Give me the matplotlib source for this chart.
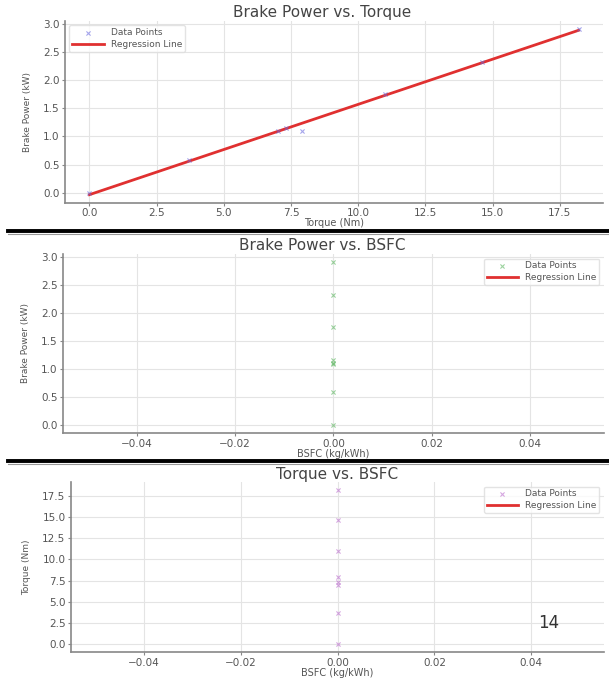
import numpy as np
import matplotlib.pyplot as plt
from matplotlib.lines import Line2D

# readings
torque = [0.0, 3.7, 7.0, 7.3, 7.9, 11.0, 14.6, 18.2]
brake_power = [0.0, 0.58, 1.09, 1.15, 1.10, 1.75, 2.32, 2.90]
bsfc = [0.0, 0.0, 0.0, 0.0, 0.0, 0.0, 0.0, 0.0]

grey = '#555555'


def style(ax):
    ax.grid(True, color='#e4e4e4', linewidth=0.8)
    ax.set_axisbelow(True)
    for side in ['top', 'right']:
        ax.spines[side].set_visible(False)
    for side in ['left', 'bottom']:
        ax.spines[side].set_color('#888888')
        ax.spines[side].set_linewidth(1.2)
    ax.tick_params(colors='#888888', labelcolor=grey, labelsize=7.5, length=2.5, pad=1.5)


fig = plt.figure(figsize=(6.09, 6.81), dpi=100)

# Brake Power vs. Torque
ax1 = fig.add_axes([0.1067, 0.7020, 0.8834, 0.2672])
coef = np.polyfit(torque, brake_power, 1)
ax1.scatter(torque, brake_power, marker='x', s=9, color='#6a6adf', alpha=0.6,
            linewidths=0.8, label='Data Points', zorder=3)
ax1.plot(torque, np.polyval(coef, torque), color='#e03030', linewidth=2,
         label='Regression Line', zorder=2)
ax1.set_title('Brake Power vs. Torque', fontsize=11, color='#444444', pad=3, x=0.478)
ax1.set_xlabel('Torque (Nm)', fontsize=7, color=grey, labelpad=0)
ax1.set_ylabel('Brake Power (kW)', fontsize=6.5, color=grey, labelpad=8)
ax1.set_xticks(np.arange(0, 18, 2.5))
style(ax1)
ax1.legend(loc='upper left', fontsize=6.5, frameon=True, edgecolor='#dddddd',
           labelcolor=grey, handlelength=3.5, borderpad=0.3, labelspacing=0.3)

# Brake Power vs. BSFC
ax2 = fig.add_axes([0.1034, 0.3642, 0.8883, 0.2628])
ax2.scatter(bsfc, brake_power, marker='x', s=9, color='#4caf50', alpha=0.55,
            linewidths=0.8, label='Data Points', zorder=3)
ax2.plot([], [], color='#e03030', linewidth=2, label='Regression Line')
ax2.set_title('Brake Power vs. BSFC', fontsize=11, color='#444444', pad=3, x=0.479)
ax2.set_xlabel('BSFC (kg/kWh)', fontsize=7, color=grey, labelpad=0)
ax2.set_ylabel('Brake Power (kW)', fontsize=6.5, color=grey, labelpad=8)
style(ax2)
ax2.legend(loc='upper right', fontsize=6.5, frameon=True, edgecolor='#dddddd',
           labelcolor=grey, handlelength=3.5, borderpad=0.3, labelspacing=0.3)

# Torque vs. BSFC
ax3 = fig.add_axes([0.1166, 0.0426, 0.8752, 0.2496])
ax3.scatter(bsfc, torque, marker='x', s=9, color='#b55fc9', alpha=0.55,
            linewidths=0.8, label='Data Points', zorder=3)
ax3.plot([], [], color='#e03030', linewidth=2, label='Regression Line')
ax3.set_title('Torque vs. BSFC', fontsize=11, color='#444444', pad=2)
ax3.set_xlabel('BSFC (kg/kWh)', fontsize=7, color=grey, labelpad=0)
ax3.set_ylabel('Torque (Nm)', fontsize=6.5, color=grey, labelpad=8)
ax3.set_yticks(np.arange(0, 18, 2.5))
style(ax3)
ax3.legend(loc='upper right', fontsize=6.5, frameon=True, edgecolor='#dddddd',
           labelcolor=grey, handlelength=3.5, borderpad=0.3, labelspacing=0.3)

# separators between the screenshots
for y in [1 - 231 / 681, 1 - 461 / 681]:
    fig.add_artist(Line2D([0.013, 1], [y, y], transform=fig.transFigure,
                          color='black', linewidth=2.8))
    fig.add_artist(Line2D([0.013, 1], [y - 0.004, y - 0.004], transform=fig.transFigure,
                          color='#999999', linewidth=0.8))

fig.text(549 / 609, 1 - 623 / 681, '14', fontsize=12, color='#333333',
         ha='center', va='center')

fig.savefig('out.png', dpi=100)
